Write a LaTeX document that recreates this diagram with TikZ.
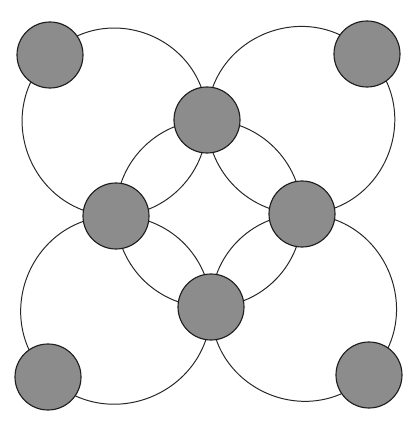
\documentclass[tikz,border=0pt]{standalone}
\usepackage{tikz}
\usetikzlibrary{backgrounds}
\definecolor{ballgray}{RGB}{140,140,140}
\definecolor{rimgray}{RGB}{30,30,30}

\begin{document}
\begin{tikzpicture}[x=0.025cm, y=0.025cm,
  ball/.style={circle, fill=ballgray, draw=rimgray, line width=0.8pt, minimum size=1.65cm, inner sep=0pt},
  ring/.style={black!85, line width=0.7pt},
  quarter/.style={bend right=45},
  wide/.style={bend right=67.5, looseness=1.23}]
  \useasboundingbox (0,0) rectangle (406,428);

  % corner balls
  \node[ball] (tl) at (50,373) {};
  \node[ball] (tr) at (367,374) {};
  \node[ball] (bl) at (48,51) {};
  \node[ball] (br) at (369,53) {};

  % inner balls
  \node[ball] (t) at (207,308) {};
  \node[ball] (l) at (116,212) {};
  \node[ball] (r) at (302,214) {};
  \node[ball] (b) at (211,121) {};

  \begin{scope}[on background layer]
    % middle circle
    \draw[ring] (t.center) to[quarter] (l.center) to[quarter] (b.center)
      to[quarter] (r.center) to[quarter] (t.center);

    % corner circles
    \draw[ring] (t.center) to[wide] (tl.center) to[wide] (l.center) to[quarter] (t.center);
    \draw[ring] (tr.center) to[wide] (t.center) to[quarter] (r.center) to[wide] (tr.center);
    \draw[ring] (b.center) to[quarter] (l.center) to[wide] (bl.center) to[wide] (b.center);
    \draw[ring] (r.center) to[quarter] (b.center) to[wide] (br.center) to[wide] (r.center);
  \end{scope}
\end{tikzpicture}
\end{document}
